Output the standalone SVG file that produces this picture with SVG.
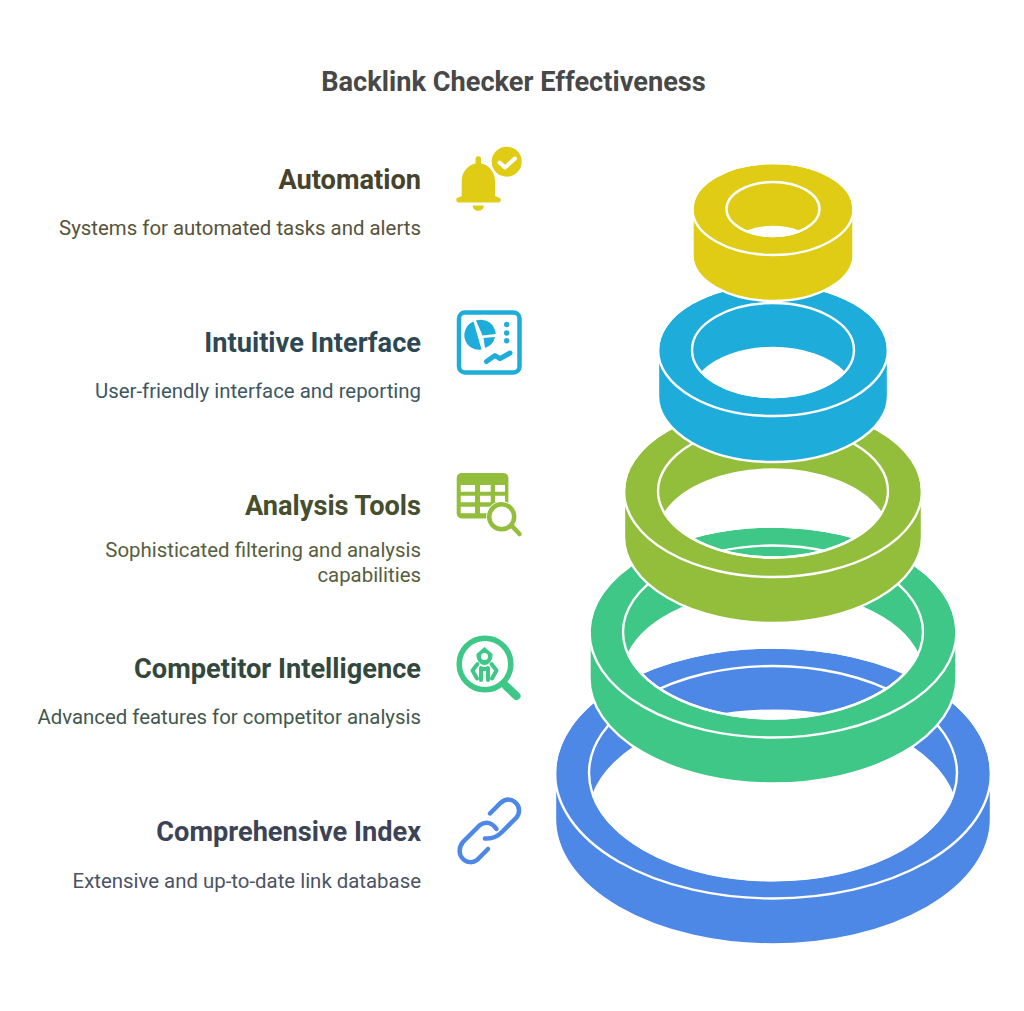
<svg xmlns="http://www.w3.org/2000/svg" width="1024" height="1011" viewBox="0 0 1024 1011">
<style>
text{font-family:Roboto,"Liberation Sans",sans-serif}
.t{font-size:27.2px;font-weight:700;fill:#484848;text-anchor:middle}
.h{font-size:27.2px;font-weight:700;text-anchor:end}
.d{font-size:20.4px;text-anchor:end}
.line{fill:none;stroke:#fff;stroke-width:2.4}
.y{fill:#E0CC15}.c{fill:#1EACDB}.o{fill:#93BE3B}.g{fill:#3EC787}.b{fill:#4E88E7}
.body{stroke:#fff;stroke-width:2.4;fill-rule:evenodd}
</style>
<rect width="1024" height="1011" fill="#fff"/>
<text class="t" x="513.5" y="91">Backlink Checker Effectiveness</text>

<g id="ring-comprehensive-index">
<path class="body b" d="M555 773A218 125.5 0 0 1 991 773V819A218 125.5 0 0 1 555 819ZM593 795.500A184 107 0 0 1 953 795.500A184 107 0 0 1 593 795.500Z"/>
<ellipse class="line" cx="773" cy="773" rx="218" ry="125.5"/><ellipse class="line" cx="773" cy="773" rx="184" ry="107"/>
</g>
<g id="ring-competitor-intelligence">
<path class="body g" d="M589.5 632A183.5 105.5 0 0 1 956.5 632V678A183.5 105.5 0 0 1 589.5 678ZM628.200 654.500A150 86.500 0 0 1 917.800 654.500A150 86.500 0 0 1 628.200 654.500Z"/>
<ellipse class="line" cx="773" cy="632" rx="183.5" ry="105.5"/><ellipse class="line" cx="773" cy="632" rx="150" ry="86.5"/>
</g>
<g id="ring-analysis-tools">
<path class="body o" d="M624 491A149 86 0 0 1 922 491V537A149 86 0 0 1 624 537ZM664.800 513.500A115 66.500 0 0 1 881.200 513.500A115 66.500 0 0 1 664.800 513.500Z"/>
<ellipse class="line" cx="773" cy="491" rx="149" ry="86"/><ellipse class="line" cx="773" cy="491" rx="115" ry="66.5"/>
</g>
<g id="ring-intuitive-interface">
<path class="body c" d="M658 350A115 66 0 0 1 888 350V396A115 66 0 0 1 658 396ZM701.900 372.500A81 47 0 0 1 844.100 372.500A81 47 0 0 1 701.900 372.500Z"/>
<ellipse class="line" cx="773" cy="350" rx="115" ry="66"/><ellipse class="line" cx="773" cy="350" rx="81" ry="47"/>
</g>
<g id="ring-automation">
<path class="body y" d="M692.500 209A80.500 46 0 0 1 853.500 209V255A80.500 46 0 0 1 692.500 255ZM747.3 231.5A46.5 27 0 0 1 798.7 231.5A46.5 27 0 0 1 747.3 231.5Z"/>
<ellipse class="line" cx="773" cy="209" rx="80.500" ry="46"/><ellipse class="line" cx="773" cy="209" rx="46.5" ry="27"/>
</g>

<g id="node-automation">
<text class="h" x="421" y="189" fill="#46432B">Automation</text>
<text class="d" x="421" y="235" fill="#56533B">Systems for automated tasks and alerts</text>
<g id="icon-bell" class="y">
<path d="M461.700 196V181C461.700 172 468 165 475.500 163.500V159A2.700 2.700 0 0 1 481 159V163.500C489 165 495 172 495 181V196L498.500 197.500A2.500 2.500 0 0 1 498 202.500H459A2.500 2.500 0 0 1 458.500 197.500Z"/>
<path d="M472.700 205.500H483.800C483.800 212.500 472.700 212.500 472.700 205.500Z"/>
<circle cx="506.700" cy="161.700" r="15"/>
<path d="M499.500 162.500L505 167.500L515 158.500" fill="none" stroke="#fff" stroke-width="4" stroke-linecap="round" stroke-linejoin="round"/>
</g>
</g>
<g id="node-interface">
<text class="h" x="421" y="352" fill="#2D4753">Intuitive Interface</text>
<text class="d" x="421" y="398" fill="#3D5763">User-friendly interface and reporting</text>
<g id="icon-dashboard" class="c">
<rect x="459" y="312.500" width="60.500" height="60" rx="6" fill="none" stroke="#1EACDB" stroke-width="4.500"/>
<path d="M473.500 321.500A14.700 14.700 0 0 0 481.500 349.600Z"/>
<path d="M476 320.500A15 15 0 0 1 495.700 334L482.500 335.500Z"/>
<path d="M483.500 338L495 337A15 15 0 0 1 485 348Z"/>
<circle cx="506.700" cy="324.500" r="2.700"/><circle cx="506.700" cy="333" r="2.700"/><circle cx="506.700" cy="340.700" r="2.700"/>
<path d="M486.500 361.500L495 355.500L500 358.700L510 353" fill="none" stroke="#1EACDB" stroke-width="5" stroke-linecap="round" stroke-linejoin="round"/>
</g>
</g>
<g id="node-analysis">
<text class="h" x="421" y="515" fill="#464E2D">Analysis Tools</text>
<text class="d" x="421" y="557" fill="#565E3D">Sophisticated filtering and analysis</text>
<text class="d" x="421" y="582" fill="#565E3D">capabilities</text>
<g id="icon-table" class="o">
<rect x="456.700" y="473" width="51.700" height="45.500" rx="5"/>
<path fill="#fff" d="M460.700 485H475V491.700H460.700ZM480 485H490.700V491.700H480ZM495 485H505V491.700H495ZM460.700 495.700H475V502.300H460.700ZM480 495.700H490.700V502.300H480ZM495 495.700H505V502.300H495ZM460.700 506.700H475V513.300H460.700ZM480 506.700H490.700V513.300H480Z"/>
<circle cx="501.700" cy="516.700" r="15.500" fill="#fff"/>
<circle cx="501.700" cy="516.700" r="12.500" fill="#fff" stroke="#93BE3B" stroke-width="4.500"/>
<path d="M512 526L519.500 534" fill="none" stroke="#93BE3B" stroke-width="4.500" stroke-linecap="round"/>
</g>
</g>
<g id="node-competitor">
<text class="h" x="421" y="678" fill="#32483D">Competitor Intelligence</text>
<text class="d" x="421" y="724" fill="#42584D">Advanced features for competitor analysis</text>
<g id="icon-competitor" class="g">
<circle cx="485" cy="664" r="25.800" fill="none" stroke="#3EC787" stroke-width="5.500"/>
<path d="M506 686L516.500 696" fill="none" stroke="#3EC787" stroke-width="8" stroke-linecap="round"/>
<path d="M484.500 647L492.500 654C493 660 489 665 484.500 665C480 665 476 660 476.500 654Z"/>
<circle cx="484.500" cy="656.500" r="3.500" fill="#fff"/>
<path d="M477.500 664L472.500 670.500L477 678.500M491.500 664L496.500 670.500L492 678.500M481 668V680M488 668V680" fill="none" stroke="#3EC787" stroke-width="4" stroke-linecap="round" stroke-linejoin="round"/>
<path d="M480 667H489V671H480Z"/>
</g>
</g>
<g id="node-index">
<text class="h" x="421" y="841" fill="#3C4356">Comprehensive Index</text>
<text class="d" x="421" y="888" fill="#4C5366">Extensive and up-to-date link database</text>
<g id="icon-link" fill="none" stroke="#4E88E7" stroke-width="4.500" stroke-linecap="round">
<path d="M490 813.500L500.500 803C506 798 512.500 799 516 803C520 807 520 814 516 818L502 832C496 838 490 839 485 838.500"/>
<path d="M496.500 829C493 824 487 820 480 825L463 842C458 848 459 855 463 859C467 863 473 863 477 860L488 849"/>
</g>
</g>
</svg>
